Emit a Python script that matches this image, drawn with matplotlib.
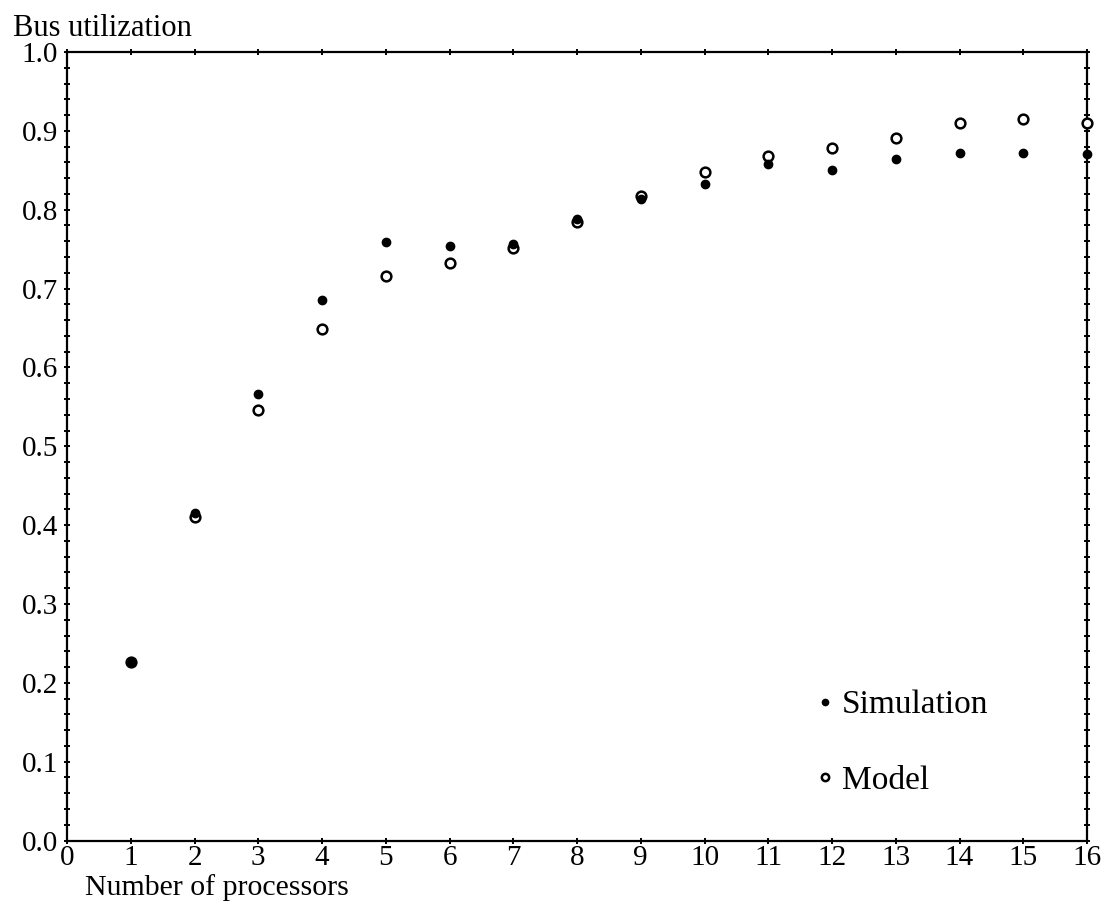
import numpy as np
import matplotlib
matplotlib.use("Agg")
import matplotlib.pyplot as plt
from matplotlib.ticker import MultipleLocator, FormatStrFormatter

# values
processors = [1, 2, 3, 4, 5, 6, 7, 8, 9, 10, 11, 12, 13, 14, 15, 16]
simulation = [0.227, 0.415, 0.566, 0.685, 0.759, 0.754, 0.757, 0.788, 0.814,
              0.833, 0.858, 0.851, 0.864, 0.872, 0.872, 0.871]
model = [0.227, 0.410, 0.546, 0.649, 0.716, 0.733, 0.751, 0.784, 0.817,
         0.848, 0.868, 0.878, 0.891, 0.910, 0.915, 0.910]

plt.rcParams['font.family'] = ['Liberation Serif', 'DejaVu Serif']

fig = plt.figure(figsize=(11.15, 9.16), dpi=100)
ax = fig.add_axes([0.0601, 0.0824, 0.9148, 0.8608])

# model drawn first, simulation dots sit on top where they overlap
ax.plot(processors, model, 'o', markerfacecolor='white', markeredgecolor='black',
        markersize=7, markeredgewidth=1.8, clip_on=False, zorder=3, label='Model')
ax.plot(processors, simulation, 'o', color='black', markersize=6,
        clip_on=False, zorder=4, label='Simulation')

ax.set_xlim(0, 16)
ax.set_ylim(0, 1.0)
ax.xaxis.set_major_locator(MultipleLocator(1))
ax.yaxis.set_major_locator(MultipleLocator(0.1))
ax.yaxis.set_minor_locator(MultipleLocator(0.02))
ax.yaxis.set_major_formatter(FormatStrFormatter('%.1f'))

for s in ax.spines.values():
    s.set_linewidth(1.6)

ax.tick_params(which='both', direction='inout', top=True, right=True,
               width=1.4, labelsize=21)
ax.tick_params(which='major', length=5)
ax.tick_params(which='minor', length=4)
ax.tick_params(axis='x', pad=1)
ax.tick_params(axis='y', pad=4)

fig.text(0.012, 0.985, 'Bus utilization', fontsize=22, va='top', ha='left')
fig.text(0.076, 0.016, 'Number of processors', fontsize=21.5, va='bottom', ha='left')

handles, labels = ax.get_legend_handles_labels()
leg = ax.legend(handles[::-1], labels[::-1], loc='center left',
                bbox_to_anchor=(0.735, 0.124), frameon=False,
                fontsize=24, handletextpad=0.25, labelspacing=1.35,
                borderpad=0, borderaxespad=0,
                markerscale=0.75, handlelength=0.5)

fig.savefig('out.png', dpi=100)
